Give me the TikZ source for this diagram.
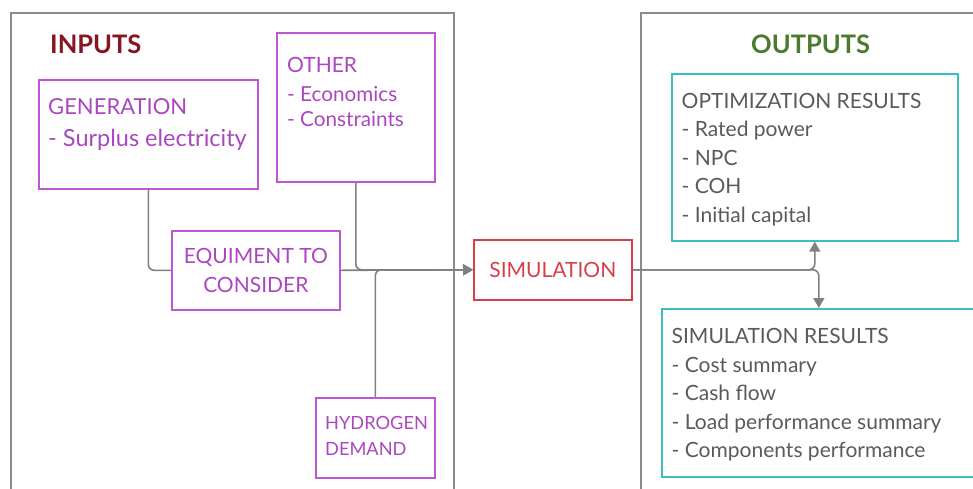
\documentclass[tikz,border=0pt]{standalone}
\usepackage{fontspec}
\setmainfont{Lato}
\usetikzlibrary{arrows.meta}

\definecolor{inred}{RGB}{135,22,34}
\definecolor{outgreen}{RGB}{76,122,46}
\definecolor{inpurple}{RGB}{192,86,214}
\definecolor{intext}{RGB}{170,70,190}
\definecolor{simred}{RGB}{215,64,72}
\definecolor{outteal}{RGB}{58,190,190}
\definecolor{outtext}{RGB}{90,90,90}
\definecolor{framegray}{RGB}{140,140,140}
\definecolor{linegray}{RGB}{128,128,128}

\tikzset{
  frame/.style={draw=framegray,line width=1.5pt},
  inbox/.style={draw=inpurple,line width=1.6pt,anchor=north west,inner sep=0pt},
  outbox/.style={draw=outteal,line width=1.6pt,anchor=north west,inner sep=0pt},
  heading/.style={anchor=north west,inner sep=0pt,font=\fontsize{25.5}{30}\selectfont\bfseries},
  intxt/.style={anchor=north west,inner sep=0pt,align=left,text=intext},
  outtxt/.style={anchor=north west,inner sep=0pt,align=left,text=outtext,
    font=\fontsize{21}{28.5}\selectfont},
  link/.style={draw=linegray,line width=1.6pt,rounded corners=6pt},
  tip/.style={-{Triangle[length=10pt,width=11pt]}}
}

\begin{document}
\begin{tikzpicture}[x=1pt,y=-1pt]
  \useasboundingbox (0,0) rectangle (973,488);

  % the two big frames, open at the bottom
  \draw[frame] (11,495) -- (11,13) -- (454,13) -- (454,495);
  \draw[frame] (641,495) -- (641,13) -- (980,13);

  \node[heading,text=inred] (inputs) at (50,34.5) {INPUTS};
  \node[heading,text=outgreen] (outputs) at (751,34.5) {OUTPUTS};

  % input side
  \node[inbox,minimum width=219pt,minimum height=109pt] (gen) at (38,79) {};
  \node[intxt,font=\fontsize{22}{32}\selectfont] (gentxt) at (48,98)
    {GENERATION};
  \node[intxt,font=\fontsize{23.5}{32}\selectfont] (genlist) at (48,129)
    {- Surplus electricity};

  \node[inbox,minimum width=158pt,minimum height=149pt] (other) at (276,32) {};
  \node[intxt,font=\fontsize{21}{25}\selectfont] (othertxt) at (287,57.3) {OTHER};
  \node[intxt,font=\fontsize{20.7}{25.3}\selectfont] (otherlist) at (287,86)
    {- Economics\\- Constraints};

  \node[inbox,minimum width=168pt,minimum height=79pt,align=center,text=intext,
    font=\fontsize{21}{29.5}\selectfont] (equip) at (171,230) {EQUIMENT TO\\CONSIDER};

  \node[inbox,minimum width=119pt,minimum height=80pt] (hyd) at (315,397) {};
  \node[intxt,font=\fontsize{18.2}{26}\selectfont] (hydtxt) at (325,416.2)
    {HYDROGEN\\DEMAND};

  \node[draw=simred,line width=1.6pt,anchor=north west,inner sep=0pt,
    minimum width=158pt,minimum height=60pt,text=simred,
    font=\fontsize{21}{24}\selectfont] (sim) at (473,239) {SIMULATION};

  % output side
  \node[outbox,minimum width=286pt,minimum height=167pt] (opt) at (671,73) {};
  \node[outtxt] (opttxt) at (681.5,93)
    {OPTIMIZATION RESULTS\\- Rated power\\- NPC\\- COH\\- Initial capital};

  \node[outbox,minimum width=314pt,minimum height=168pt] (simres) at (661,308) {};
  \node[outtxt] (simrestxt) at (671.5,328.5)
    {SIMULATION RESULTS\\- Cost summary\\- Cash flow\\- Load performance summary\\- Components performance};

  % connectors
  \draw[link] (gen.south) |- (equip.west);
  \draw[link,tip] (other.south) |- (sim.west);
  \draw[link,tip] (hyd.north) |- (sim.west);
  \draw[link,tip] (equip.east) -- (sim.west);
  \draw[link,tip] (sim.east) -| (opt.south);
  \draw[link,tip] (sim.east) -| (simres.north);
\end{tikzpicture}
\end{document}
